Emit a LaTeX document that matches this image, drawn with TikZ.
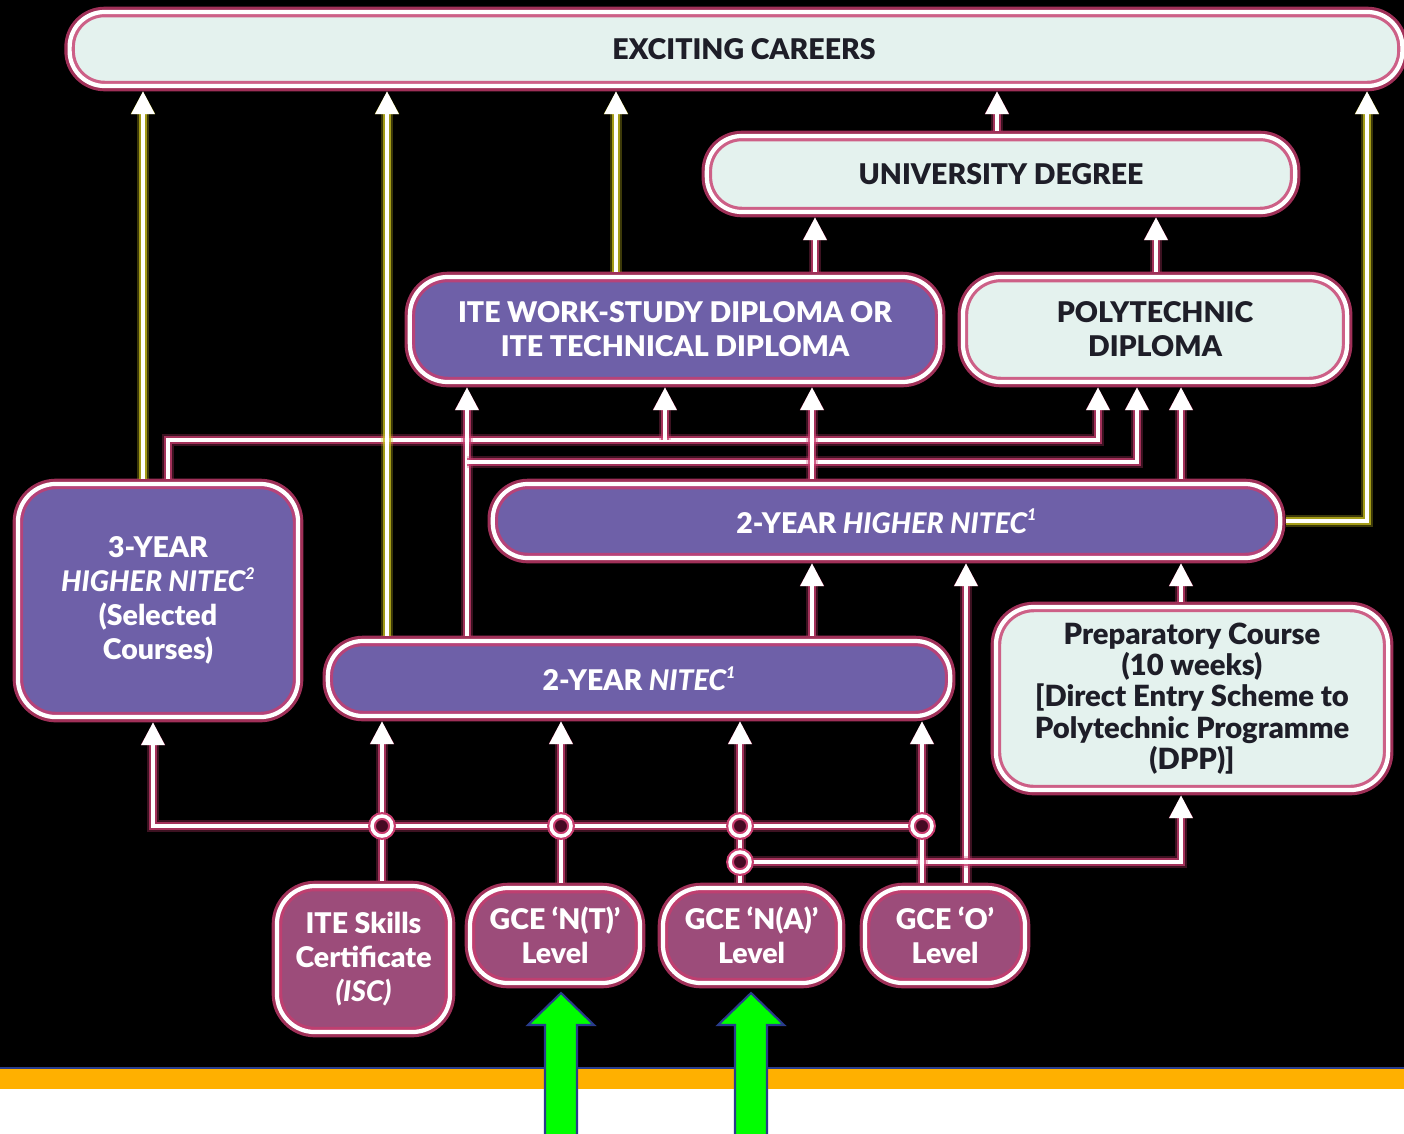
\documentclass[tikz,border=0pt]{standalone}
\usepackage{fontspec}
\setmainfont{Lato}[BoldFont={* Black}, BoldItalicFont={* Black Italic}]
\usetikzlibrary{arrows.meta}

\definecolor{boxpurple}{RGB}{110,96,168}
\definecolor{boxmaroon}{RGB}{156,76,122}
\definecolor{boxmint}{RGB}{228,242,238}
\definecolor{glowpink}{RGB}{200,60,110}
\definecolor{glowyellow}{RGB}{200,190,30}
\definecolor{darktext}{RGB}{30,30,40}
\definecolor{dotfill}{RGB}{70,10,35}
\definecolor{bandorange}{RGB}{255,176,0}
\definecolor{arrowgreen}{RGB}{0,255,0}
\definecolor{arrowblue}{RGB}{40,60,140}

\newcommand{\supnote}[1]{\raisebox{0.85ex}{\fontsize{4.6}{5}\selectfont #1}}

\tikzset{
  box/.style={rectangle, rounded corners=0.38cm, draw=glowpink, draw opacity=.8, line width=3pt,
    preaction={fill=#1}, postaction={draw=white, draw opacity=1, line width=1.2pt},
    align=center, inner sep=0pt, font=\bfseries\fontsize{8.1}{9.7}\selectfont},
  pill/.style={rounded corners=0.35cm},
  purplebox/.style={box=boxpurple, text=white},
  lightbox/.style={box=boxmint, text=darktext},
  levelbox/.style={box=boxmaroon, text=white},
  jn/.style={circle, draw=glowpink, line width=2.2pt, fill=dotfill,
    postaction={draw=white, line width=1pt}, minimum size=0.2cm, inner sep=0pt},
  glowline/.style={draw=white, line width=1pt,
    preaction={draw=#1, line width=3.4pt, opacity=.3},
    preaction={draw=#1, line width=2.2pt, opacity=.75}},
  wire/.style={glowline=glowpink},
  link/.style={glowline=glowpink, -{Triangle[width=6.5pt,length=6.5pt]}},
  ylink/.style={glowline=glowyellow, -{Triangle[width=6.5pt,length=6.5pt]}},
}

\begin{document}
\begin{tikzpicture}[x=0.01cm, y=-0.01cm]
\useasboundingbox (0,0) rectangle (1404,1133);
\fill[black] (0,0) rectangle (1404,1068);
\fill[bandorange] (0,1068) rectangle (1404,1089);
\fill[white] (0,1089) rectangle (1404,1133);
\draw[arrowblue, line width=0.5pt] (0,1068) -- (1404,1068);

% qualifications
\node[lightbox, pill, minimum width=13.32cm, minimum height=0.74cm] (careers) at (736,49) {\hspace{0.16cm}EXCITING CAREERS};
\node[lightbox, pill, minimum width=5.88cm, minimum height=0.76cm] (univ) at (1001,174) {UNIVERSITY DEGREE};
\node[purplebox, minimum width=5.30cm, minimum height=1.05cm] (itewsd) at (675,329.5) {ITE WORK-STUDY DIPLOMA OR\\ITE TECHNICAL DIPLOMA};
\node[lightbox, minimum width=3.84cm, minimum height=1.05cm] (poly) at (1155,329.5) {POLYTECHNIC\\DIPLOMA};
\node[purplebox, minimum width=2.80cm, minimum height=2.33cm] (threeyr) at (158,600.5) {3-YEAR\\\textit{HIGHER NITEC\supnote{2}}\\(Selected\\Courses)};
\node[purplebox, pill, minimum width=7.87cm, minimum height=0.74cm] (higher) at (886.5,521) {2-YEAR \textit{HIGHER NITEC\supnote{1}}};
\node[purplebox, pill, minimum width=6.22cm, minimum height=0.75cm] (nitec) at (639,678.5) {2-YEAR \textit{NITEC\supnote{1}}};
\node[lightbox, minimum width=3.92cm, minimum height=1.83cm, font=\bfseries\fontsize{8.3}{8.9}\selectfont] (prep) at (1192,698.5) {Preparatory Course\\(10 weeks)\\{[}Direct Entry Scheme to\\Polytechnic Programme\\(DPP)]};

% entry levels
\node[levelbox, minimum width=1.73cm, minimum height=1.46cm] (isc) at (363.5,959) {ITE Skills\\Certificate\\\textit{(ISC)}};
\node[levelbox, minimum width=1.70cm, minimum height=0.95cm] (nt) at (555,935.5) {GCE ‘N(T)’\\Level};
\node[levelbox, minimum width=1.77cm, minimum height=0.95cm] (na) at (751.5,935.5) {GCE ‘N(A)’\\Level};
\node[levelbox, minimum width=1.60cm, minimum height=0.95cm] (olvl) at (945,935.5) {GCE ‘O’\\Level};

% junctions
\coordinate (jisc) at (382,826);
\coordinate (jnt) at (561,826);
\coordinate (jna) at (740,826);
\coordinate (jo) at (922,826);
\coordinate (jdpp) at (740,862);
\coordinate (tapA) at (665,440);
\coordinate (tapB) at (467,462);

% up to university
\draw[link] (itewsd.north -| 815,0) -- (univ.south -| 815,0);
\draw[link] (poly.north -| 1156,0) -- (univ.south -| 1156,0);

% rails into the diplomas
\draw[link] (threeyr.north -| 168,0) |- (1098,440) -- (poly.south -| 1098,0);
\draw[link] (tapA) -- (itewsd.south -| tapA);
\draw[link] (nitec.north -| tapB) -- (itewsd.south -| tapB);
\draw[link] (tapB) -| (poly.south -| 1137,0);
\draw[link] (higher.north -| 812,0) -- (itewsd.south -| 812,0);
\draw[link] (higher.north -| 1181,0) -- (poly.south -| 1181,0);

% into the higher nitec
\draw[link] (nitec.north -| 812,0) -- (higher.south -| 812,0);
\draw[link] (olvl.north -| 966,0) -- (higher.south -| 966,0);
\draw[link] (prep.north -| 1181,0) -- (higher.south -| 1181,0);

% up to careers
\draw[link] (univ.north -| 997,0) -- (careers.south -| 997,0);
\draw[ylink] (threeyr.north -| 143,0) -- (careers.south -| 143,0);
\draw[ylink] (nitec.north -| 387,0) -- (careers.south -| 387,0);
\draw[ylink] (itewsd.north -| 616,0) -- (careers.south -| 616,0);
\draw[ylink] (higher.east) -| (careers.south -| 1367,0);

% entry bus
\draw[link] (jo) -| (threeyr.south -| 153,0);
\draw[link] (jdpp) -| (prep.south -| 1181,0);
\draw[link] (jisc) -- (nitec.south -| jisc);
\draw[link] (jnt) -- (nitec.south -| jnt);
\draw[link] (jna) -- (nitec.south -| jna);
\draw[link] (jo) -- (nitec.south -| jo);
\draw[wire] (isc.north -| jisc) -- (jisc);
\draw[wire] (nt.north -| jnt) -- (jnt);
\draw[wire] (na.north -| jna) -- (jna);
\draw[wire] (olvl.north -| jo) -- (jo);
\foreach \j in {jisc,jnt,jna,jo,jdpp}
  \node[jn] (dot-\j) at (\j) {};

% pointers
\foreach \gx in {561,751}
  \filldraw[fill=arrowgreen, draw=arrowblue, line width=0.6pt]
    (\gx-16,1140) -- (\gx-16,1025) -- (\gx-33,1025) -- (\gx,993)
    -- (\gx+33,1025) -- (\gx+16,1025) -- (\gx+16,1140);
\end{tikzpicture}
\end{document}
